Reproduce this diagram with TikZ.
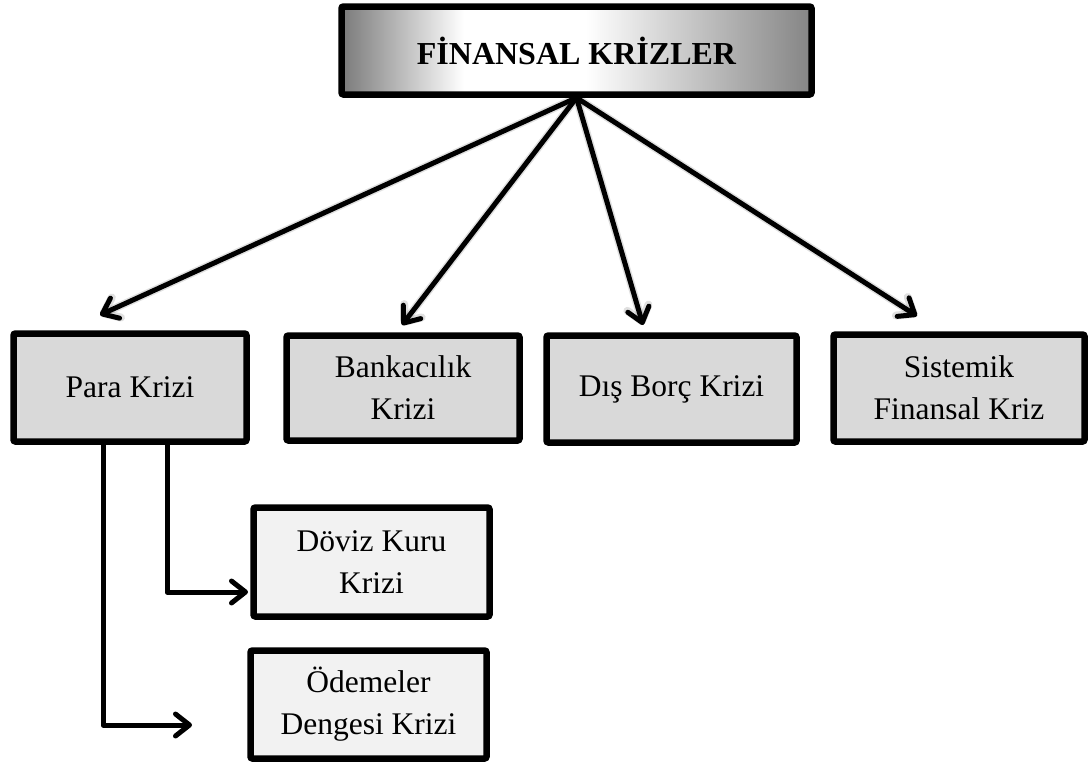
\documentclass[tikz,border=0pt]{standalone}
\usepackage{fontspec}
\setmainfont{Liberation Serif}
\usetikzlibrary{arrows.meta,calc}

\definecolor{boxgray}{HTML}{D9D9D9}
\definecolor{boxlight}{HTML}{F2F2F2}

% grey - white - grey band for the title box
\pgfdeclarehorizontalshading{titleshade}{100bp}{%
  color(0bp)=(black!52); color(25bp)=(black!52);
  color(38bp)=(white); color(51bp)=(white);
  color(75bp)=(black!48); color(100bp)=(black!48)}

\begin{document}
\begin{tikzpicture}[x=1pt,y=-1pt,
  box/.style={draw=black,line width=6.5pt,rounded corners=2pt,fill=boxgray,
    align=center,inner sep=0pt,font=\fontsize{31.5}{42}\selectfont},
  subbox/.style={box,fill=boxlight},
  titlebox/.style={draw=black,line width=6.5pt,rounded corners=2pt,
    shading=titleshade,inner sep=0pt,font=\bfseries\fontsize{32}{38}\selectfont},
  link/.style={draw=black,line width=5pt,line cap=round,line join=round,
    -{Straight Barb[length=14pt,width=22pt,line cap=round,line join=round]}},
  halo/.style={link,draw=black,opacity=0.12,line width=8pt,
    shift={(2pt,-3pt)}},
]
\useasboundingbox (0,0) rectangle (1090,764);

% nodes
\node[titlebox,minimum width=470pt,minimum height=88pt] (top) at (576.5,50.5)
  {F\.INANSAL KR\.IZLER};

\node[box,minimum width=233pt,minimum height=108pt] (para) at (130,387.5) {Para Krizi};
\node[box,minimum width=233pt,minimum height=105pt] (bank) at (403,388) {Bankacılık\\Krizi};
\node[box,minimum width=250pt,minimum height=107pt] (dis)  at (671.5,389) {Dış Borç Krizi};
\node[box,minimum width=251pt,minimum height=107pt] (sis)  at (959,388) {Sistemik\\Finansal Kriz};

\node[subbox,minimum width=236pt,minimum height=109pt] (doviz) at (371.5,562) {Döviz Kuru\\Krizi};
\node[subbox,minimum width=236pt,minimum height=108pt] (odeme) at (368.5,704.5) {Ödemeler\\Dengesi Krizi};

% arrow ends
\coordinate (tpara) at (100,315);
\coordinate (tbank) at (402,325);
\coordinate (tdis)  at (643,325);
\coordinate (tsis)  at (917,316);
\coordinate (tdoviz) at (248,592);
\coordinate (todeme) at (192,725);

% soft shadows under the main arrows
\foreach \t in {tpara,tbank,tdis,tsis}
  \draw[halo] (top.south) -- (\t);

% main arrows
\foreach \t in {tpara,tbank,tdis,tsis}
  \draw[link] (top.south) -- (\t);

% branches below the first box
\draw[link] ([xshift=37pt]para.south) |- (tdoviz);
\draw[link] ([xshift=-27pt]para.south) |- (todeme);
\end{tikzpicture}
\end{document}
